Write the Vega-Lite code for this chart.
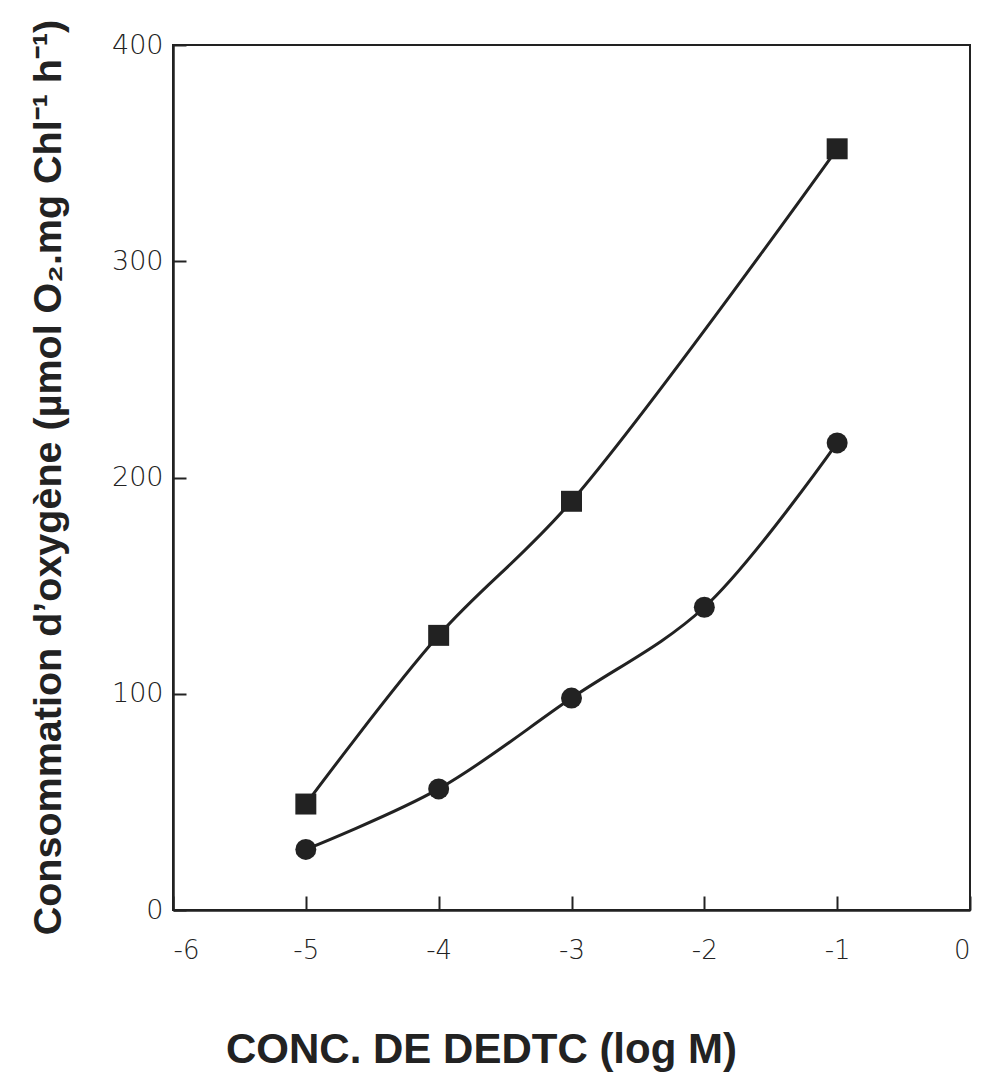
{
  "$schema": "https://vega.github.io/schema/vega-lite/v6.json",
  "autosize": "none",
  "width": 797,
  "height": 865,
  "padding": {"left": 173, "top": 45, "right": 16, "bottom": 175},
  "background": "white",
  "config": {
    "view": {"stroke": "#222", "strokeWidth": 2},
    "axis": {
      "domainColor": "#222", "domainWidth": 2.5,
      "tickColor": "#222", "tickWidth": 2,
      "grid": false,
      "labelColor": "#222",
      "titleFont": "Liberation Sans", "titleFontWeight": "bold", "titleColor": "#222"
    }
  },
  "resolve": {"axis": {"x": "independent", "y": "independent"}},
  "data": {
    "values": [
      {"serie": "carre", "logc": -5, "o2": 49},
      {"serie": "carre", "logc": -4, "o2": 127},
      {"serie": "carre", "logc": -3, "o2": 189},
      {"serie": "carre", "logc": -1, "o2": 352},
      {"serie": "cercle", "logc": -5, "o2": 28},
      {"serie": "cercle", "logc": -4, "o2": 56},
      {"serie": "cercle", "logc": -3, "o2": 98},
      {"serie": "cercle", "logc": -2, "o2": 140},
      {"serie": "cercle", "logc": -1, "o2": 216}
    ]
  },
  "layer": [
    {
      "mark": {"type": "line", "interpolate": "catmull-rom", "color": "#222", "strokeWidth": 3},
      "encoding": {
        "x": {
          "field": "logc", "type": "quantitative",
          "scale": {"domain": [-6, 0], "nice": false, "zero": false},
          "axis": {
            "orient": "bottom",
            "values": [-6, -5, -4, -3, -2, -1, 0],
            "labelExpr": "toString(datum.value)",
            "labelFont": "DejaVu Sans", "labelFontSize": 26, "labelFontWeight": 200,
            "ticks": false, "tickSize": 0,
            "labelPadding": 27,
            "title": "CONC. DE DEDTC (log M)",
            "titleFontSize": 42,
            "titleX": 308, "titleY": 152, "titleAlign": "center", "titleBaseline": "alphabetic", "titleAnchor": null
          }
        },
        "y": {
          "field": "o2", "type": "quantitative",
          "scale": {"domain": [0, 400], "nice": false},
          "axis": {
            "orient": "left",
            "values": [0, 100, 200, 300, 400],
            "labelFont": "DejaVu Sans", "labelFontSize": 27, "labelFontWeight": 200,
            "ticks": false, "tickSize": 0,
            "labelPadding": 10,
            "title": "Consommation d’oxygène (µmol O₂.mg Chl⁻¹ h⁻¹)",
            "titleFontSize": 39.5,
            "titleAngle": -90,
            "titleX": -113, "titleY": 432, "titleAlign": "center", "titleBaseline": "alphabetic"
          }
        },
        "detail": {"field": "serie"}
      }
    },
    {
      "mark": {"type": "point", "filled": true, "opacity": 1, "color": "#222"},
      "encoding": {
        "x": {
          "field": "logc", "type": "quantitative",
          "axis": {
            "orient": "top", "offset": -865,
            "values": [-6, -5, -4, -3, -2, -1, 0],
            "domain": false, "labels": false, "title": null,
            "ticks": true, "tickSize": 14
          }
        },
        "y": {
          "field": "o2", "type": "quantitative",
          "axis": {
            "orient": "right", "offset": -797,
            "values": [0, 100, 200, 300, 400],
            "domain": false, "labels": false, "title": null,
            "ticks": true, "tickSize": 13
          }
        },
        "shape": {"field": "serie", "type": "nominal", "scale": {"domain": ["carre", "cercle"], "range": ["square", "circle"]}, "legend": null},
        "size": {"field": "serie", "type": "nominal", "scale": {"domain": ["carre", "cercle"], "range": [440, 440]}, "legend": null}
      }
    }
  ]
}
